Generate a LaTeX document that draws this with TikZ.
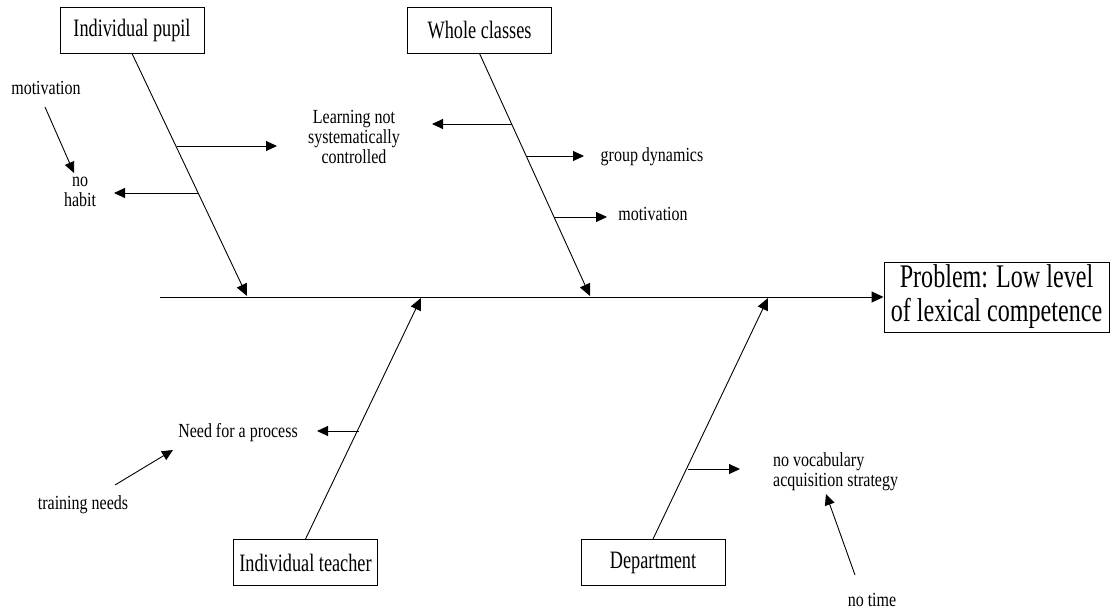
\documentclass[tikz,border=0pt]{standalone}
\usepackage{fontspec}
\setmainfont{Liberation Serif}[FakeStretch=0.73]
\newfontfamily\labelfont{Liberation Serif}[FakeStretch=0.8]
\usetikzlibrary{arrows.meta}
\begin{document}
\begin{tikzpicture}[x=1pt,y=-1pt,
  cause/.style={draw,line width=0.9pt,minimum width=144pt,minimum height=46pt,inner sep=2pt,font=\fontsize{25}{28}\selectfont},
  effect/.style={draw,line width=0.9pt,inner sep=2pt,minimum width=225pt,minimum height=70pt,align=center,font=\fontsize{33}{34}\selectfont},
  lbl/.style={inner sep=1pt,align=center,font=\labelfont\fontsize{20}{20}\selectfont},
  bone/.style={line width=0.9pt,-{Triangle[length=12pt,width=11pt]}},
  twig/.style={line width=0.9pt,-{Triangle[length=11pt,width=10pt]}}]
\useasboundingbox (0,0) rectangle (1112,611);

% head of the fish
\node[effect] (prob) at (996.5,297) {Problem: Low level\\of lexical competence};
\coordinate (tail) at (160,297);
\draw[bone] (tail) -- (prob.west);

% cause boxes
\node[cause] (pupil) at (132,30) {Individual pupil};
\node[cause] (whole) at (479.5,30) {Whole classes};
\node[cause] (teacher) at (305.5,562.5) {Individual teacher};
\node[cause] (dept) at (653,562.5) {Department};

% where the bones meet the spine
\coordinate (sp1) at (247,296);
\coordinate (sp2) at (590,296);
\coordinate (sp3) at (421,298);
\coordinate (sp4) at (768,298);

\draw[bone] (pupil.south) -- (sp1);
\draw[bone] (whole.south) -- (sp2);
\draw[bone] (teacher.north) -- (sp3);
\draw[bone] (dept.north) -- (sp4);

% sub-cause labels
\node[lbl] (mot1) at (46,88) {motivation};
\node[lbl] (habit) at (80,192) {no\\habit};
\node[lbl] (learn) at (354,137) {Learning not\\systematically\\controlled};
\node[lbl] (group) at (652,157) {group dynamics};
\node[lbl] (mot2) at (653,214) {motivation};
\node[lbl] (need) at (238,433) {Need for a process};
\node[lbl] (train) at (83,505) {training needs};
\node[lbl,anchor=west,align=left] (vocab) at (772,472) {no vocabulary\\acquisition strategy};
\node[lbl] (notime) at (872,600) {no time};

% twig start and end points
\coordinate (p1a) at (176.5,146); \coordinate (p1b) at (277,146);
\coordinate (p2a) at (198.5,193); \coordinate (p2b) at (114,193);
\coordinate (w1a) at (512,124);   \coordinate (w1b) at (432,124);
\coordinate (w2a) at (526.5,156); \coordinate (w2b) at (584,156);
\coordinate (w3a) at (554,217);   \coordinate (w3b) at (607,217);
\coordinate (t1a) at (358.5,431); \coordinate (t1b) at (317,431);
\coordinate (d1a) at (687.5,469); \coordinate (d1b) at (740,469);
\coordinate (m1a) at (45,107);    \coordinate (m1b) at (74,173);
\coordinate (tra) at (115,485);   \coordinate (trb) at (173,450);
\coordinate (nta) at (855,575);   \coordinate (ntb) at (826,494);

\draw[twig] (p1a) -- (p1b);
\draw[twig] (p2a) -- (p2b);
\draw[twig] (w1a) -- (w1b);
\draw[twig] (w2a) -- (w2b);
\draw[twig] (w3a) -- (w3b);
\draw[twig] (t1a) -- (t1b);
\draw[twig] (d1a) -- (d1b);
\draw[twig] (m1a) -- (m1b);
\draw[twig] (tra) -- (trb);
\draw[twig] (nta) -- (ntb);
\end{tikzpicture}
\end{document}
